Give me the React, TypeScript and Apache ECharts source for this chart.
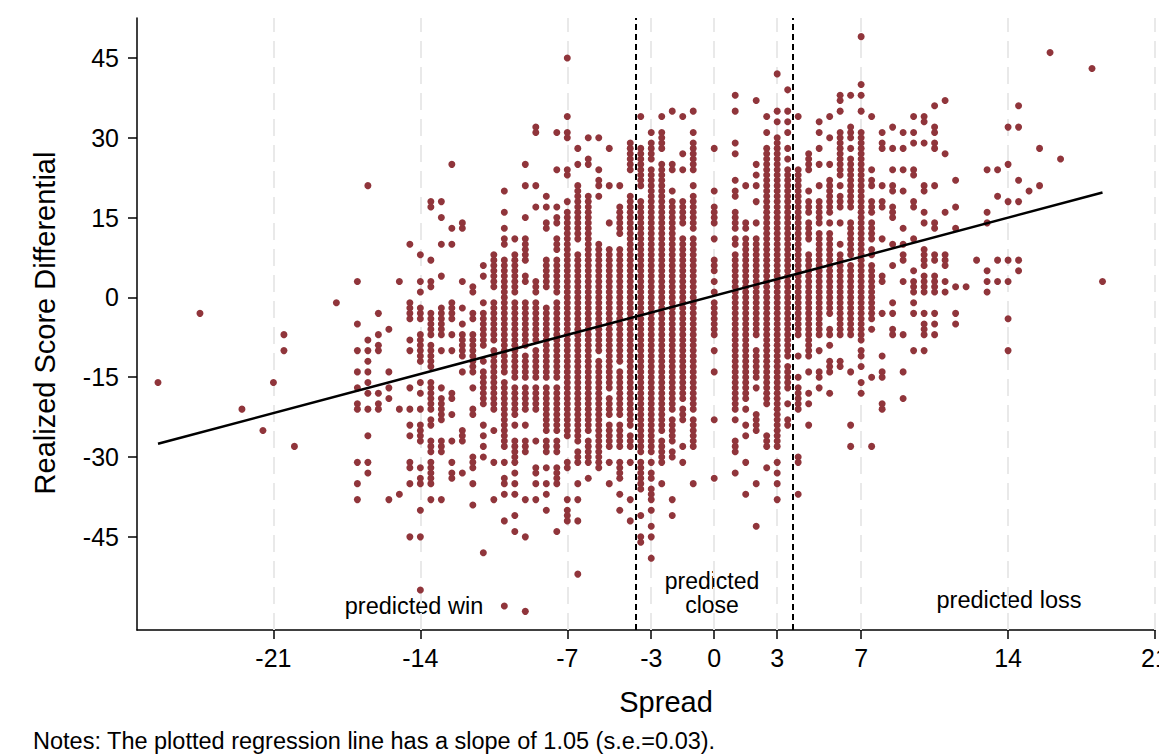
import React, { useEffect, useRef } from "react";
import * as echarts from "echarts";

// Spread values (x) of every column of games
const spreads: number[] = [
  -26.5, -24.5, -22.5, -21.5, -21, -20.5, -20, -18, -17, -16.5, -16, -15.5, -15,
  -14.5, -14, -13.5, -13, -12.5, -12, -11.5, -11, -10.5, -10, -9.5, -9, -8.5, -8,
  -7.5, -7, -6.5, -6, -5.5, -5, -4.5, -4, -3.5, -3, -2.5, -2, -1.5, -1, 0, 1, 1.5,
  2, 2.5, 3, 3.5, 4, 4.5, 5, 5.5, 6, 6.5, 7, 7.5, 8, 8.5, 9, 9.5, 10, 10.5, 11,
  11.5, 12, 12.5, 13, 13.5, 14, 14.5, 15, 15.5, 16, 16.5, 18, 18.5,
];

// Realized score differentials read for each column ("a:b" = a stack of dots at every integer from a to b)
const scoreRuns: string[] = [
  "-16",
  "-3",
  "-21",
  "-25",
  "-16",
  "-7 -10",
  "-28",
  "-1",
  "3 -5 -10 -14 -17 -20 -21 -31 -35 -38",
  "21 -8 -10 -12 -14 -16 -18 -21 -26 -31 -33",
  "-3 -7 -9 -10 -18 -20 -21",
  "-6 -14 -17 -19 -38",
  "3 -21 -37",
  "10 -1:-4 -8 -10 -17 -21 -24 -26 -31 -32 -35 -45",
  "8 3 1 -2:-4 -7:-12 -16 -18 -21 -24:-27 -32 -34 -35 -40 -45 -55",
  "18 17 7 3 2 -3:-7 -9:-13 -16:-21 -23 -24 -27:-29 -31:-35 -38",
  "18 15 10 4 -2:-7 -10 -17 -19:-23 -27:-29 -38",
  "25 13 10 -1:-4 -7 -10 -18 -19 -22 -27 -31 -33 -34",
  "14 13 3 -2 -5 -7:-11 -14 -25:-27 -33",
  "2 1 -3 -4 -7:-14 -17 -21 -22 -30:-32 -35 -39",
  "6 4 -1 -3:-9 -12 -14:-20 -24 -26 -28 -30 -48",
  "8:2 -1:-8 -10:-21 -25 -31 -38",
  "20 16 13 11 10 7:-14 -16:-28 -31 -34 -35 -37 -42 -58",
  "11 8:1 -1:-15 -17:-22 -24 -27:-31 -33 -35 -37 -41 -44",
  "25 21 15 11:7 4 3 -1:-9 -11:-15 -17:-21 -24 -27:-29 -38 -45 -59",
  "32 31 21 17 3:1 -1:-8 -10:-15 -17:-21 -27 -32 -33 -35 -38",
  "19 17 14 13 7:2 -2:-15 -17:-25 -27:-29 -32 -35 -37 -40",
  "31 24 17 15 14 11:9 7:1 -1:-15 -17:-25 -27:-29 -32:-35 -44",
  "45 34 31 30 24 23 18 16:-26 -31 -32 -38 -40 -41 -42",
  "28 25 21:11 8:-27 -29:-31 -35 -38 -42 -52",
  "30 26 25 19:-25 -27:-31 -34",
  "30 24 22 21 19 10:-10 -12:-32",
  "28 21 14 9:-17 -19:-22 -24:-28 -31 -35",
  "21 17:12 9:-12 -14:-22 -24:-28 -31:-34 -37 -40",
  "29:24 19:-24 -26:-28 -31 -38 -42",
  "34 28:21 18:-29 -31:-36 -41 -45 -46",
  "31 29:26 24:-29 -31 -33 -34 -36:-38 -40 -43 -45 -49",
  "34 31:28 25:-25 -27:-31 -35",
  "35 25 24 20 18:-21 -23:-27 -29 -30 -38 -41",
  "34 27 24 18:14 11:-19 -21:-23 -28 -31",
  "35 31 29:24 21 19:13 11:-21 -23:-28 -35",
  "28 20 17:14 11 7:5 3 1 -1:-7 -10 -14 -23 -34",
  "38 35 29 27 22 20 19 16:13 11 10 8:-21 -23 -27:-29 -33",
  "21 14 13 11:-19 -21 -24 -26 -31 -37",
  "37 25 23 21 18 14 11:-7 -10:-15 -17 -22:-25 -35 -43",
  "34 31 28:-20 -26:-28 -32",
  "42 35 33 30:-28 -31 -33 -35 -38",
  "39 35 33 31 28 26 24:-11 -13:-17 -20 -23 -24",
  "34 24:-7 -11 -15 -17:-21 -30 -31 -37",
  "27:24 20 18:16 14:11 8:-11 -14 -18 -20 -24",
  "33 31 28 25 21 18:14 12:-7 -10 -14 -15 -17",
  "34 30 25 22:16 14 12:-3 -6 -7 -9 -12:-14 -18",
  "38 37 35 31:23 21 19:17 14 10 8:-7 -12 -13",
  "38 32:30 28 26:17 14:8 6:-7 -14 -24 -28",
  "49 40 38 35 31:-8 -10 -11 -13 -16 -18",
  "34 24 22 21 18:16 14:11 9 8 6:-4 -6 -15 -28",
  "31 29 28 21 18 17 11 4 3 -3 -11 -14 -15 -20 -21",
  "32 28 24 21 20 17 16 15 10 6 -1 -3 -6 -7",
  "31 28 24 20 13 10 8 7 3 -7 -14 -19",
  "34 31 29 24 23 18 17 11 5 3 2 1 -1 -3 -10",
  "34 33 29 21 20 16 14 9:6 4:1 -3 -5 -6 -7 -10",
  "36 32 31 29 28 21 14 13 8 7 4:1 -3 -5 -7",
  "37 27 16 8 7 6 3 1",
  "22 17 13 2 -3 -5",
  "2",
  "7",
  "24 16 14 5 3 1",
  "24 19 7 3",
  "32 25 18 7 3 -4 -10",
  "36 32 22 18 7 5",
  "20",
  "28 21",
  "46",
  "26",
  "43",
  "3",
];

const xTicks: number[] = [-21, -14, -7, -3, 0, 3, 7, 14, 21];
const yTicks: number[] = [-45, -30, -15, 0, 15, 30, 45];
const closeBounds: number[] = [-3.75, 3.75];
const regX: number[] = [-26.5, 18.5];
const regY: number[] = [-27.5, 19.7];
const regionLabels: string[] = ["predicted win", "predicted\nclose", "predicted loss"];
const xTitle = "Spread";
const yTitle = "Realized Score Differential";
const note = "Notes: The plotted regression line has a slope of 1.05 (s.e.=0.03).";

const FONT = '"Liberation Sans", Arial, Helvetica, sans-serif';
const DOT = "#90353B";

function buildPoints(): number[][] {
  const pts: number[][] = [];
  spreads.forEach((s, i) => {
    scoreRuns[i]
      .trim()
      .split(/\s+/)
      .forEach((tok) => {
        const m = tok.match(/^(-?\d+):(-?\d+)$/);
        if (m) {
          const a = Number(m[1]);
          const b = Number(m[2]);
          const hi = Math.max(a, b);
          const lo = Math.min(a, b);
          for (let v = hi; v >= lo; v--) pts.push([s, v]);
        } else {
          pts.push([s, Number(tok)]);
        }
      });
  });
  return pts;
}

export default function App() {
  const ref = useRef<HTMLDivElement>(null);

  useEffect(() => {
    if (!ref.current) return;
    const chart = echarts.init(ref.current, null, { renderer: "svg" });
    const points = buildPoints();

    chart.setOption({
      animation: false,
      backgroundColor: "#ffffff",
      grid: {
        left: 137,
        top: 18,
        width: 1018,
        height: 612,
        containLabel: false,
        outerBoundsMode: "none",
      },
      xAxis: {
        type: "value",
        min: -27.5,
        max: 21,
        axisLine: { show: true, onZero: false, lineStyle: { color: "#000", width: 1.5 } },
        axisTick: { show: true, length: 9, lineStyle: { color: "#000", width: 1.5 }, customValues: xTicks },
        axisLabel: {
          show: true,
          customValues: xTicks,
          margin: 15,
          color: "#000",
          fontSize: 25,
          fontFamily: FONT,
          formatter: (v: number) => String(v),
        },
        splitLine: { show: false },
      },
      yAxis: {
        type: "value",
        min: -62.5,
        max: 52.5,
        axisLine: { show: true, onZero: false, lineStyle: { color: "#000", width: 1.5 } },
        axisTick: { show: true, length: 9, lineStyle: { color: "#000", width: 1.5 }, customValues: yTicks },
        axisLabel: {
          show: true,
          customValues: yTicks,
          margin: 18,
          color: "#000",
          fontSize: 25,
          fontFamily: FONT,
          formatter: (v: number) => String(v),
        },
        splitLine: { show: false },
      },
      series: [
        {
          type: "line",
          data: [],
          z: 1,
          markLine: {
            silent: true,
            z: 1,
            zlevel: 0,
            symbol: "none",
            label: { show: false },
            lineStyle: { color: "#e9e9e9", width: 2, type: [17, 9] },
            data: xTicks.map((v) => ({ xAxis: v })),
          },
        },
        {
          type: "scatter",
          z: 3,
          symbol: "circle",
          symbolSize: 7,
          itemStyle: { color: DOT, opacity: 1 },
          data: points,
        },
        {
          type: "line",
          z: 6,
          data: regX.map((x, i) => [x, regY[i]]),
          symbol: "none",
          lineStyle: { color: "#000", width: 2.5 },
        },
        {
          type: "line",
          data: [],
          z: 7,
          markLine: {
            silent: true,
            z: 7,
            symbol: "none",
            label: { show: false },
            lineStyle: { color: "#000", width: 2, type: [6, 4] },
            data: closeBounds.map((v) => ({ xAxis: v })),
          },
        },
      ],
      graphic: [
        {
          type: "text",
          x: 45,
          y: 323,
          rotation: Math.PI / 2,
          style: { text: yTitle, fill: "#000", fontSize: 29, fontFamily: FONT, align: "center", verticalAlign: "middle" },
        },
        {
          type: "text",
          x: 666,
          y: 702,
          style: { text: xTitle, fill: "#000", fontSize: 29, fontFamily: FONT, align: "center", verticalAlign: "middle" },
        },
        {
          type: "text",
          x: 33,
          y: 741,
          style: { text: note, fill: "#000", fontSize: 23.5, fontFamily: FONT, align: "left", verticalAlign: "middle" },
        },
        {
          type: "text",
          x: 414,
          y: 606,
          style: { text: regionLabels[0], fill: "#000", fontSize: 23.5, fontFamily: FONT, align: "center", verticalAlign: "middle" },
        },
        {
          type: "text",
          x: 712,
          y: 593,
          style: {
            text: regionLabels[1],
            fill: "#000",
            fontSize: 23,
            lineHeight: 24,
            fontFamily: FONT,
            align: "center",
            verticalAlign: "middle",
          },
        },
        {
          type: "text",
          x: 1009,
          y: 600,
          style: { text: regionLabels[2], fill: "#000", fontSize: 23.5, fontFamily: FONT, align: "center", verticalAlign: "middle" },
        },
      ],
    });

    return () => {
      chart.dispose();
    };
  }, []);

  return <div ref={ref} style={{ position: "absolute", left: 0, top: 0, width: 1159, height: 755 }} />;
}
